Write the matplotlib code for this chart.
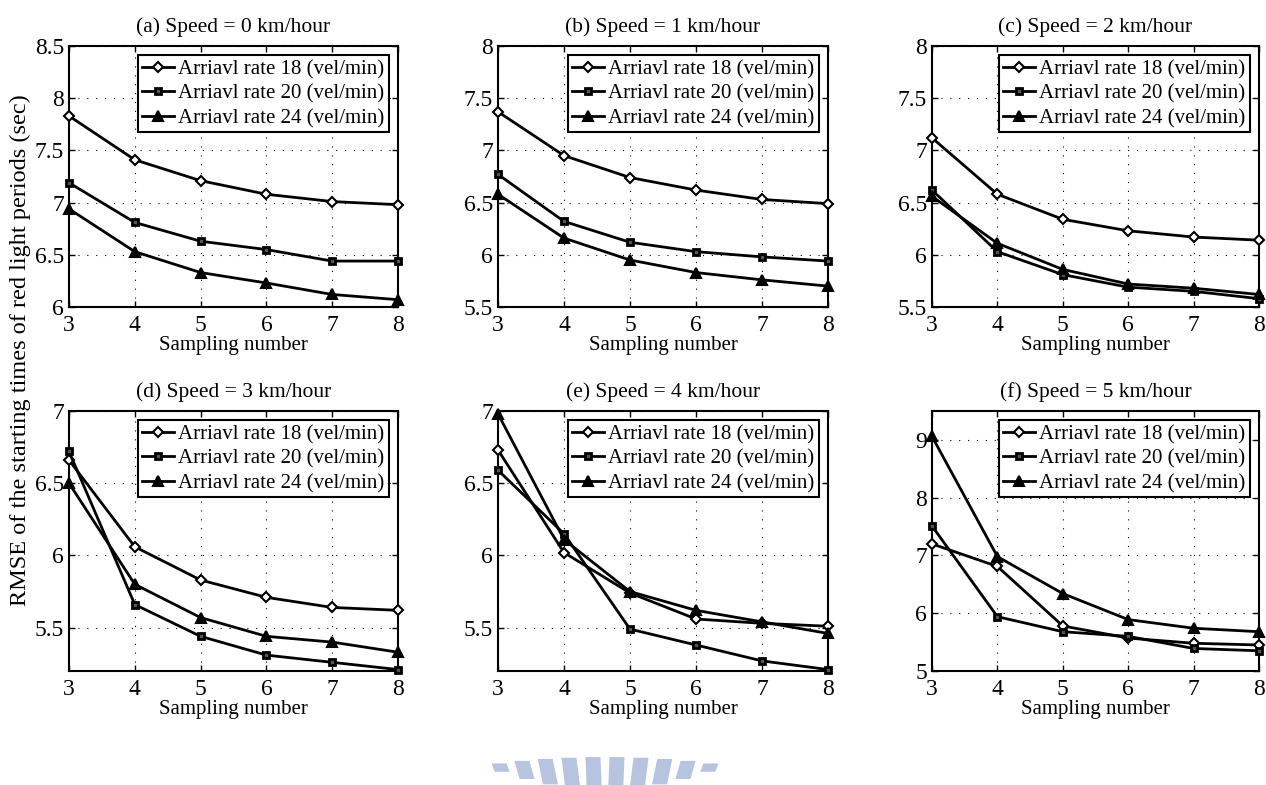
import numpy as np
import matplotlib
matplotlib.use("Agg")
import matplotlib.pyplot as plt
from matplotlib.patches import Polygon

plt.rcParams.update({
    "font.family": ["Liberation Serif", "DejaVu Serif"],
    "font.size": 13.5,
    "axes.linewidth": 1.5,
    "xtick.direction": "in",
    "ytick.direction": "in",
    "xtick.top": True,
    "ytick.right": True,
    "xtick.major.size": 4,
    "ytick.major.size": 4,
})

sampling = [3, 4, 5, 6, 7, 8]
speeds = [0, 1, 2, 3, 4, 5]
panel_tags = ["a", "b", "c", "d", "e", "f"]
rate_labels = ["Arriavl rate 18 (vel/min)",
               "Arriavl rate 20 (vel/min)",
               "Arriavl rate 24 (vel/min)"]

# RMSE (sec) per speed, one list per arrival rate
rate18 = [
    [7.83, 7.41, 7.21, 7.08, 7.01, 6.98],
    [7.37, 6.95, 6.74, 6.62, 6.53, 6.49],
    [7.12, 6.58, 6.34, 6.23, 6.17, 6.14],
    [6.66, 6.06, 5.83, 5.71, 5.64, 5.62],
    [6.73, 6.02, 5.74, 5.56, 5.53, 5.51],
    [7.20, 6.81, 5.78, 5.57, 5.48, 5.45],
]
rate20 = [
    [7.19, 6.81, 6.63, 6.55, 6.44, 6.44],
    [6.77, 6.32, 6.12, 6.03, 5.98, 5.94],
    [6.62, 6.03, 5.81, 5.69, 5.65, 5.58],
    [6.72, 5.66, 5.44, 5.31, 5.26, 5.21],
    [6.59, 6.15, 5.49, 5.38, 5.27, 5.21],
    [7.51, 5.94, 5.68, 5.60, 5.39, 5.35],
]
rate24 = [
    [6.94, 6.53, 6.33, 6.23, 6.12, 6.07],
    [6.58, 6.16, 5.95, 5.83, 5.76, 5.70],
    [6.56, 6.11, 5.86, 5.72, 5.68, 5.62],
    [6.50, 5.80, 5.57, 5.44, 5.40, 5.33],
    [6.98, 6.11, 5.75, 5.62, 5.54, 5.46],
    [9.06, 6.98, 6.34, 5.89, 5.74, 5.68],
]

y_limits = [(6, 8.5), (5.5, 8), (5.5, 8), (5.2, 7), (5.2, 7), (5, 9.5)]
y_ticks = [
    [6, 6.5, 7, 7.5, 8, 8.5],
    [5.5, 6, 6.5, 7, 7.5, 8],
    [5.5, 6, 6.5, 7, 7.5, 8],
    [5.5, 6, 6.5, 7],
    [5.5, 6, 6.5, 7],
    [5, 6, 7, 8, 9],
]

W, H = 1266, 785
fig = plt.figure(figsize=(W / 100, H / 100), dpi=100)

col_left = [69, 498, 932]
col_width = [329, 330, 327]
row_top = [46, 411]
row_height = [261, 260]

styles = [
    dict(marker="D", markersize=5.5, markeredgewidth=1.5, markerfacecolor="white"),
    dict(marker="s", markersize=5, markeredgewidth=2.0, markerfacecolor="#555555"),
    dict(marker="^", markersize=7, markeredgewidth=1.5, markerfacecolor="black"),
]


def fmt(v):
    return f"{v:g}"


for i in range(6):
    r, c = divmod(i, 3)
    x0 = col_left[c] / W
    y0 = 1 - (row_top[r] + row_height[r]) / H
    ax = fig.add_axes([x0, y0, col_width[c] / W, row_height[r] / H])

    for series, label, st in zip([rate18, rate20, rate24], rate_labels, styles):
        ax.plot(sampling, series[i], color="black", linewidth=2.0,
                markeredgecolor="black", label=label,
                clip_on=False, zorder=3, **st)

    ax.set_xlim(3, 8)
    ax.set_ylim(*y_limits[i])
    ax.set_xticks(sampling)
    ax.set_yticks(y_ticks[i])
    ax.set_yticklabels([fmt(v) for v in y_ticks[i]])
    ax.tick_params(axis="both", labelsize=17, width=1)
    ax.tick_params(axis="x", pad=6)
    ax.tick_params(axis="y", pad=3.5)
    ax.grid(True, color="black", linestyle=(0, (1, 7)), linewidth=0.8)
    ax.set_title(f"({panel_tags[i]}) Speed = {speeds[i]} km/hour",
                 fontsize=15.5, pad=10)
    ax.set_xlabel("Sampling number", fontsize=15, labelpad=0)

    leg = ax.legend(loc="upper right", fontsize=15, frameon=True, fancybox=False,
                    borderaxespad=0.45, handlelength=1.55, handletextpad=0.2,
                    borderpad=0.2, labelspacing=0.24)
    leg.get_frame().set_edgecolor("black")
    leg.get_frame().set_linewidth(1.5)
    leg.get_frame().set_alpha(1)

fig.text(20 / W, 1 - 350 / H,
         "RMSE of the starting times of red light periods (sec)",
         rotation=90, ha="center", va="center", fontsize=17.5)

# faint logo stripes along the bottom edge
cx, cy = 605, 1050
for k in range(10):
    dx = (k - 4.5) * 23
    top = 757 + 0.0006 * dx ** 2
    bot = 790 - 0.0017 * dx ** 2
    ang = np.arctan2(dx, cy - 770)
    half = 7.5
    pts = []
    for yy, side in [(top, -1), (top, 1), (bot, 1), (bot, -1)]:
        xx = cx + dx + (770 - yy) * np.tan(ang) + side * half
        pts.append((xx / W, 1 - yy / H))
    fig.patches.append(Polygon(pts, closed=True, transform=fig.transFigure,
                               facecolor="#afbedd", edgecolor="none", alpha=0.9))

fig.savefig("out.png", dpi=100)
